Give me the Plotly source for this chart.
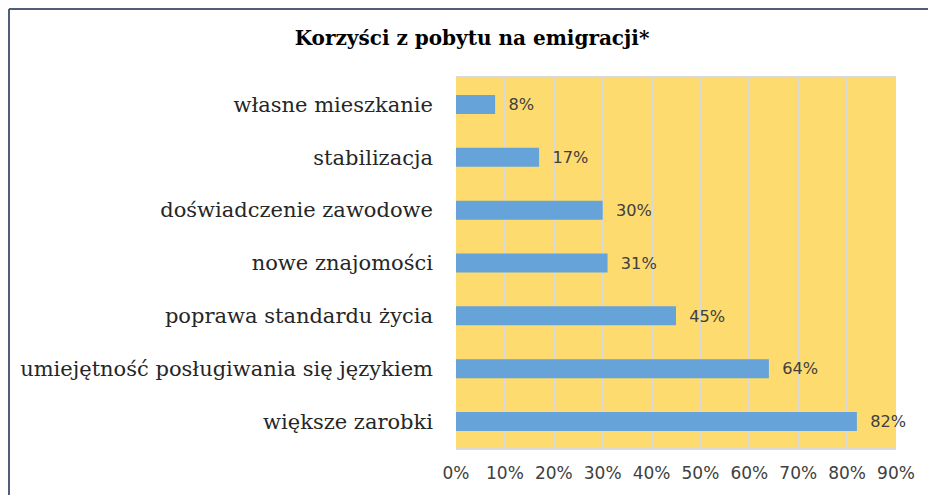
import plotly.graph_objects as go

categories = ["większe zarobki", "umiejętność posługiwania się językiem",
              "poprawa standardu życia", "nowe znajomości",
              "doświadczenie zawodowe", "stabilizacja", "własne mieszkanie"]
values = [0.82, 0.64, 0.45, 0.31, 0.30, 0.17, 0.08]
tick_vals = [0, 0.1, 0.2, 0.3, 0.4, 0.5, 0.6, 0.7, 0.8, 0.9]
tick_text = ["0%", "10%", "20%", "30%", "40%", "50%", "60%", "70%", "80%", "90%"]

# page body has an 8px margin, so figure coordinates = screen - 8
OFF = 8
W, H = 936 - OFF, 495 - OFF
L, R, T, B = 456 - OFF, 936 - 896, 78 - OFF, 495 - 448
pw, ph = W - L - R, H - T - B


def px(x):
    return (x - OFF - L) / pw


def py(y):
    return (H - B - (y - OFF)) / ph


fig = go.Figure(go.Bar(
    y=categories, x=values, orientation="h",
    marker=dict(color="#66A3D8", line=dict(width=0)),
    width=0.36,
    text=[f"{round(v*100)}%" for v in values],
    texttemplate="  %{text}",
    textposition="outside",
    textfont=dict(family="DejaVu Sans", size=17, color="#404040"),
    cliponaxis=False,
))

fig.update_layout(
    width=W, height=H,
    margin=dict(l=L, r=R, t=T, b=B),
    paper_bgcolor="white",
    plot_bgcolor="#FDDB6F",
    title=dict(text="<b>Korzyści z pobytu na emigracji*</b>",
               font=dict(family="DejaVu Serif", size=20, color="black"),
               x=px(472), xref="paper", xanchor="center",
               y=1 - (38 - OFF) / H, yanchor="middle"),
    showlegend=False,
    xaxis=dict(range=[0, 0.9], tickvals=tick_vals, ticktext=tick_text,
               showgrid=True, gridcolor="#D9D9D9", gridwidth=2,
               zeroline=False, showline=True, linecolor="#D9D9D9", linewidth=2,
               mirror=True,
               tickfont=dict(family="DejaVu Sans", size=17, color="#404040"),
               ticks="", ticklabelstandoff=9, fixedrange=True),
    yaxis=dict(tickfont=dict(family="DejaVu Serif", size=21, color="#262626"),
               ticks="", ticklabelstandoff=22, showgrid=False, fixedrange=True),
    shapes=[
        dict(type="line", xref="paper", yref="paper",
             x0=px(9), x1=px(940), y0=py(9), y1=py(9),
             line=dict(color="#4F5F78", width=2)),
        dict(type="line", xref="paper", yref="paper",
             x0=px(9), x1=px(9), y0=py(9), y1=py(500),
             line=dict(color="#4F5F78", width=2)),
    ],
)

fig.write_html("out.html")
